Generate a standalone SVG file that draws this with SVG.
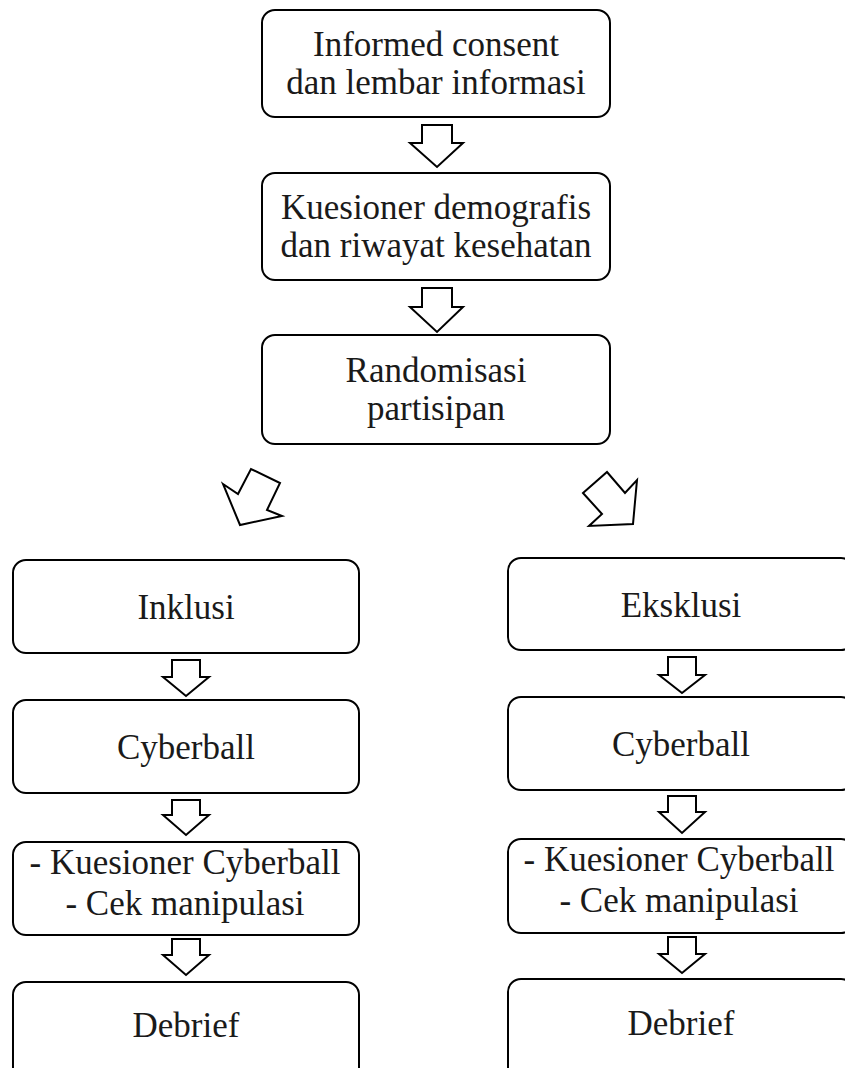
<svg xmlns="http://www.w3.org/2000/svg" width="845" height="1068" viewBox="0 0 845 1068">
<style>
.box{fill:#fff;stroke:#000;stroke-width:2}
.arr{fill:#fff;stroke:#000;stroke-width:2;stroke-linejoin:miter}
.t{font-family:"Liberation Serif","Times New Roman",serif;font-size:35px;text-anchor:middle;fill:#1a1a1a}
</style>
<rect width="845" height="1068" fill="#fff"/>
<g id="connectors">
<polygon class="arr" points="422,125 452,125 452,143 463,143 437,167 410,143 422,143"/>
<polygon class="arr" points="422,288 452,288 452,307 463,307 437,332 410,307 422,307"/>
<polygon class="arr" points="223,484 238,494 251,469 280,483 267,510 282,516 240,525"/>
<polygon class="arr" points="583,493 607,472 625,493 637,480 633,524 589,526 602,514"/>
<polygon class="arr" points="172,660 200,660 200,677 209,677 186,696 163,677 172,677"/>
<polygon class="arr" points="172,800 200,800 200,815 209,815 186,835 163,815 172,815"/>
<polygon class="arr" points="172,939 200,939 200,955 209,955 186,975 163,955 172,955"/>
<polygon class="arr" points="668,657 696,657 696,675 705,675 682,693 659,675 668,675"/>
<polygon class="arr" points="668,796 696,796 696,812 705,812 682,833 659,812 668,812"/>
<polygon class="arr" points="668,937 696,937 696,954 705,954 682,973 659,954 668,954"/>
</g>
<g id="n1"><rect class="box" x="262" y="10" width="348" height="107" rx="13"/><text class="t" x="436" y="56">Informed consent</text><text class="t" x="436" y="94">dan lembar informasi</text></g>
<g id="n2"><rect class="box" x="262" y="173" width="348" height="107" rx="13"/><text class="t" x="436" y="219">Kuesioner demografis</text><text class="t" x="436" y="257">dan riwayat kesehatan</text></g>
<g id="n3"><rect class="box" x="262" y="335" width="348" height="109" rx="13"/><text class="t" x="436" y="382">Randomisasi</text><text class="t" x="436" y="420">partisipan</text></g>
<g id="n4"><rect class="box" x="13" y="560" width="346" height="93" rx="13"/><text class="t" x="186" y="619">Inklusi</text></g>
<g id="n5"><rect class="box" x="13" y="700" width="346" height="93" rx="13"/><text class="t" x="186" y="759">Cyberball</text></g>
<g id="n6"><rect class="box" x="13" y="842" width="346" height="93" rx="13"/><text class="t" x="185" y="874">- Kuesioner Cyberball</text><text class="t" x="185" y="915">- Cek manipulasi</text></g>
<g id="n7"><rect class="box" x="13" y="982" width="346" height="110" rx="13"/><text class="t" x="186" y="1037">Debrief</text></g>
<g id="n8"><rect class="box" x="508" y="558" width="346" height="92" rx="13"/><text class="t" x="681" y="617">Eksklusi</text></g>
<g id="n9"><rect class="box" x="508" y="697" width="346" height="93" rx="13"/><text class="t" x="681" y="756">Cyberball</text></g>
<g id="n10"><rect class="box" x="508" y="839" width="346" height="94" rx="13"/><text class="t" x="679" y="871">- Kuesioner Cyberball</text><text class="t" x="679" y="912">- Cek manipulasi</text></g>
<g id="n11"><rect class="box" x="508" y="979" width="346" height="110" rx="13"/><text class="t" x="681" y="1035">Debrief</text></g>
</svg>
